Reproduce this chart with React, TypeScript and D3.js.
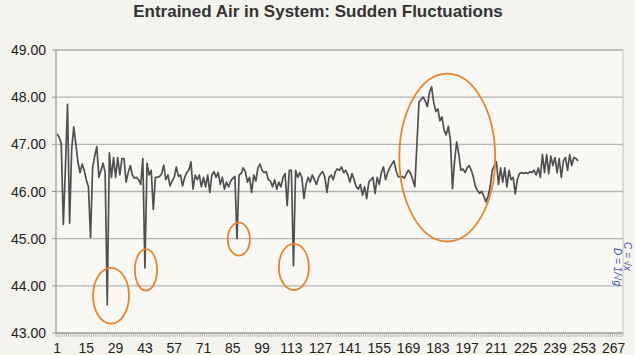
import * as d3 from 'd3';

// readings 1..250
const airValues = [
  47.22, 47.15, 47.02, 45.3, 46.5, 47.85, 45.33, 46.9, 47.37, 47.0,
  46.62, 46.4, 46.58, 46.45, 46.25, 46.1, 45.02, 46.5, 46.75, 46.95,
  46.3, 46.45, 46.6, 46.4, 43.6, 46.82, 46.3, 46.72, 46.3, 46.72,
  46.35, 46.7, 46.7, 46.2, 46.4, 46.55, 46.35, 46.28, 46.3, 46.25,
  46.15, 46.7, 44.38, 46.6, 46.35, 46.45, 45.62, 46.3, 46.3, 46.32,
  46.38, 46.56, 46.25, 46.35, 46.12, 46.22, 46.3, 46.52, 46.32, 46.35,
  46.12, 46.3, 46.4, 46.45, 46.63, 46.05, 46.35, 46.25, 46.35, 46.1,
  46.3, 46.1, 46.35, 45.98, 46.35, 46.42, 46.3, 46.4, 46.15, 46.3,
  46.05, 46.2, 46.1, 46.22, 46.28, 46.32, 45.0, 46.35, 46.38, 46.5,
  46.42, 46.2, 46.3, 45.98, 46.35, 46.22, 46.5, 46.58, 46.45, 46.4,
  46.42, 46.25, 46.22, 46.1, 46.25, 46.05, 46.2, 46.1, 46.3, 46.38,
  45.7, 46.45, 46.45, 44.42, 46.45, 46.3, 46.4, 46.3, 45.85, 46.15,
  46.3, 46.2, 46.35, 46.25, 46.15, 46.3, 46.38, 46.42, 46.3, 45.98,
  46.3, 46.35, 46.25, 46.42, 46.48, 46.45, 46.52, 46.4, 46.45, 46.35,
  46.2, 46.38, 46.25, 46.1, 46.05, 46.15, 45.92, 46.1, 45.85, 46.2,
  46.25, 46.3, 45.96, 46.3, 46.15, 46.4, 46.52, 46.25, 46.4, 46.5,
  46.58, 46.65, 46.45, 46.32, 46.3, 46.32, 46.28, 46.38, 46.45, 46.38,
  46.25, 46.1, 47.0, 47.9, 47.95, 48.0, 47.92, 47.8, 48.1, 48.22,
  47.9, 47.7, 47.75, 47.5, 47.58, 47.3, 47.2, 47.38, 47.1, 46.06,
  46.65, 47.05, 46.8, 46.45, 46.48, 46.4, 46.5, 46.55, 46.45, 46.3,
  46.1, 46.02, 45.96, 46.0, 45.9, 45.78, 45.9, 46.1, 46.45, 46.55,
  46.63, 46.15, 46.5, 46.2, 46.5, 46.1, 46.45, 46.25, 46.3, 45.95,
  46.25, 46.38, 46.4, 46.38, 46.4, 46.38, 46.42, 46.4, 46.45, 46.35,
  46.5, 46.3, 46.78, 46.4, 46.78, 46.38, 46.75, 46.55, 46.72, 46.4,
  46.7, 46.3, 46.65, 46.72, 46.45, 46.78, 46.55, 46.72, 46.7, 46.65,
];

const xTickLabels = [1, 15, 29, 43, 57, 71, 85, 99, 113, 127, 141, 155, 169, 183, 197, 211, 225, 239, 253, 267];
const yTickLabels = [43, 44, 45, 46, 47, 48, 49];
const categoryCount = 271;

// hand-drawn circles: centre (category, value), half-width in categories, half-height in value units
const circledCategories = [26.8, 43.5, 87.9, 114.2, 187.5];
const circledValues = [43.79, 44.34, 44.99, 44.4, 46.72];
const circleHalfWidths = [8.6, 5.3, 5.3, 7.2, 22.9];
const circleHalfHeights = [0.59, 0.44, 0.35, 0.49, 1.78];

const W = 635;
const H = 355;
const left = 56;
const right = 623;
const top = 50;
const bottom = 333;

export default function App() {
  const x = d3.scaleLinear().domain([0.5, categoryCount + 0.5]).range([left, right]);
  const y = d3.scaleLinear().domain([43, 49]).range([bottom, top]);

  const line = d3
    .line<number>()
    .x((_, i) => x(i + 1))
    .y((d) => y(d));

  const font = 'Liberation Sans, Arial, sans-serif';

  return (
    <svg
      width={W}
      height={H}
      style={{ position: 'absolute', left: 0, top: 0, display: 'block' }}
      fontFamily={font}
    >
      <rect width={W} height={H} fill="#f5f3ed" />
      <rect x={left} y={top} width={right - left} height={bottom - top} fill="#f9f8f4" stroke="#c4c4c4" />

      {/* gridlines */}
      {yTickLabels.map((t) => (
        <line key={'g' + t} x1={left} x2={right} y1={y(t)} y2={y(t)} stroke="#b4b4b4" strokeWidth={1.3} />
      ))}

      {/* y axis */}
      <line x1={left} x2={left} y1={top} y2={bottom} stroke="#a8a8a8" strokeWidth={1.2} />
      {yTickLabels.map((t) => (
        <g key={'y' + t}>
          <line x1={left - 4} x2={left} y1={y(t)} y2={y(t)} stroke="#999" />
          <text x={46} y={y(t) + 5} textAnchor="end" fontSize={14} fill="#222">
            {d3.format('.2f')(t)}
          </text>
        </g>
      ))}

      {/* x axis with a tick per category */}
      <line x1={left} x2={right} y1={bottom} y2={bottom} stroke="#a0a0a0" strokeWidth={1.2} />
      {d3.range(0, categoryCount + 1).map((i) => (
        <line
          key={'t' + i}
          x1={x(i + 0.5)}
          x2={x(i + 0.5)}
          y1={bottom}
          y2={bottom + 4}
          stroke="#b0b0b0"
          strokeWidth={0.8}
        />
      ))}
      {xTickLabels.map((t) => (
        <text key={'x' + t} x={x(t)} y={353} textAnchor="middle" fontSize={14} fill="#222">
          {t}
        </text>
      ))}

      <path d={line(airValues) || ''} fill="none" stroke="#505050" strokeWidth={1.7} strokeLinejoin="round" />

      {/* orange hand-drawn rings */}
      {circledCategories.map((c, i) => (
        <ellipse
          key={'e' + i}
          cx={x(c)}
          cy={y(circledValues[i])}
          rx={x(c + circleHalfWidths[i]) - x(c)}
          ry={y(circledValues[i] - circleHalfHeights[i]) - y(circledValues[i])}
          fill="none"
          stroke="#e8852c"
          strokeWidth={1.8}
        />
      ))}

      {/* pen note on the right edge */}
      <g fill="#3c56a8" fontSize={10} fontStyle="italic">
        <text transform="translate(614,248) rotate(90)">D = 1/√g</text>
        <text transform="translate(624,242) rotate(90)">C = √x</text>
      </g>

      <text x={318} y={17} textAnchor="middle" fontSize={17} fontWeight="bold" fill="#333">
        Entrained Air in System: Sudden Fluctuations
      </text>
    </svg>
  );
}
